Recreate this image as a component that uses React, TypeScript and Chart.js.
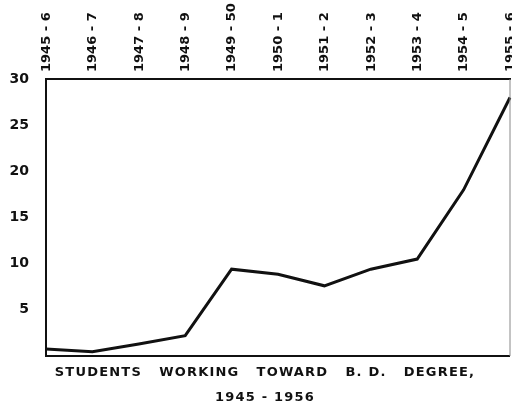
import React, { useEffect, useRef } from "react";
import { Chart, registerables } from "chart.js";

Chart.register(...registerables);

const categories = [
  "1945 - 6",
  "1946 - 7",
  "1947 - 8",
  "1948 - 9",
  "1949 - 50",
  "1950 - 1",
  "1951 - 2",
  "1952 - 3",
  "1953 - 4",
  "1954 - 5",
  "1955 - 6",
];
const students = [0.75, 0.45, 1.3, 2.2, 9.4, 8.85, 7.6, 9.4, 10.5, 18.0, 28.0];
const yTickValues = [5, 10, 15, 20, 25, 30];
const titleLines = ["STUDENTS   WORKING   TOWARD   B. D.   DEGREE,", "1945 - 1956"];

const INK = "#111111";
const FONT = "'DejaVu Sans', sans-serif";

const framePlugin = {
  id: "frameAndTitle",
  afterDraw(chart: any) {
    const { ctx, chartArea } = chart;
    ctx.save();
    ctx.strokeStyle = INK;
    ctx.lineWidth = 2;
    ctx.beginPath();
    ctx.moveTo(chartArea.left, chartArea.bottom);
    ctx.lineTo(chartArea.right, chartArea.bottom);
    ctx.stroke();
    ctx.strokeStyle = "#888888";
    ctx.lineWidth = 1;
    ctx.beginPath();
    ctx.moveTo(chartArea.right, chartArea.top);
    ctx.lineTo(chartArea.right, chartArea.bottom);
    ctx.stroke();
    ctx.fillStyle = INK;
    ctx.font = `bold 13px ${FONT}`;
    ctx.textAlign = "center";
    ctx.textBaseline = "middle";
    try {
      (ctx as any).letterSpacing = "1.2px";
    } catch (e) {}
    const cx = (chartArea.left + chartArea.right) / 2 - 13;
    ctx.fillText(titleLines[0], cx, chartArea.bottom + 17);
    ctx.fillText(titleLines[1], cx, chartArea.bottom + 42);
    ctx.restore();
  },
};

export default function App() {
  const canvasRef = useRef<HTMLCanvasElement | null>(null);

  useEffect(() => {
    if (!canvasRef.current) return;
    const chart = new Chart(canvasRef.current, {
      type: "line",
      data: {
        labels: categories,
        datasets: [
          {
            data: students,
            borderColor: INK,
            borderWidth: 3,
            pointRadius: 0,
            tension: 0,
            fill: false,
          },
        ],
      },
      options: {
        animation: false,
        responsive: false,
        layout: { padding: { left: 0, right: 2, top: 0, bottom: 56 } },
        plugins: {
          legend: { display: false },
          tooltip: { enabled: false },
          title: { display: false },
        },
        scales: {
          x: {
            position: "top",
            offset: false,
            grid: { display: false, drawTicks: false },
            border: { display: true, color: INK, width: 2 },
            ticks: {
              color: INK,
              font: { family: FONT, size: 13, weight: "bold" },
              minRotation: 90,
              maxRotation: 90,
              padding: 7,
              labelOffset: 16,
              autoSkip: false,
            },
            afterFit(scale: any) {
              scale.height = 79;
              scale.paddingLeft = 0;
              scale.paddingRight = 0;
            },
          },
          y: {
            min: 0,
            max: 30,
            afterBuildTicks(scale: any) {
              scale.ticks = yTickValues.map((v) => ({ value: v }));
            },
            grid: { display: false, drawTicks: false },
            border: { display: true, color: INK, width: 2 },
            ticks: {
              color: INK,
              font: { family: FONT, size: 14, weight: "bold" },
              padding: 17,
            },
            afterFit(scale: any) {
              scale.width = 46;
            },
          },
        },
      },
      plugins: [framePlugin],
    });
    return () => chart.destroy();
  }, []);

  return (
    <div style={{ position: "fixed", left: 0, top: 0, width: 512, height: 412, background: "#fff" }}>
      <canvas ref={canvasRef} width={512} height={412} style={{ display: "block" }} />
    </div>
  );
}
